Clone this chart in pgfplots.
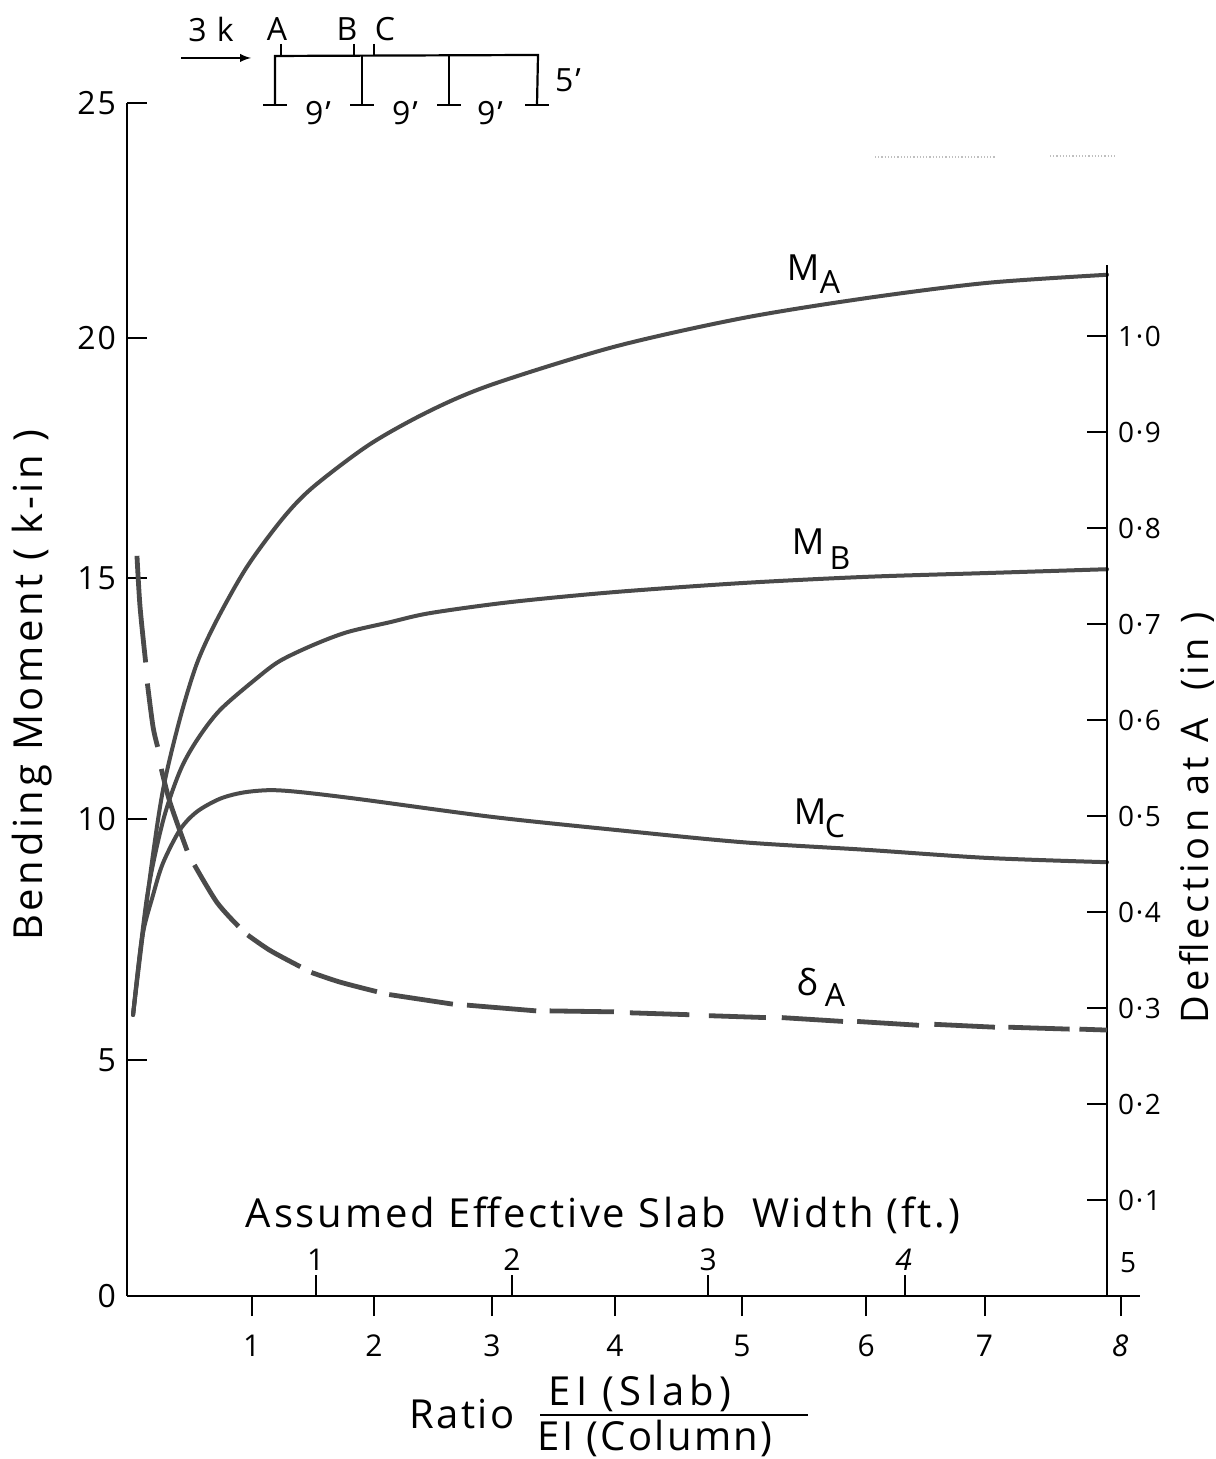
\documentclass[border=0pt]{standalone}
\usepackage{fontspec}
\usepackage{pgfplots}
\pgfplotsset{compat=1.18}
\setmainfont{Open Sans}
\newcommand{\labs}[2]{\fontsize{#2}{#2}\selectfont\addfontfeatures{LetterSpace=#1}}
\newcommand{\lab}[1]{\labs{6}{#1}}
\definecolor{curve}{HTML}{4A4A4A}
\pgfplotsset{dashseg/.style={curve, line width=2.4pt, line cap=butt, smooth, forget plot}}
\begin{document}
\begin{tikzpicture}
\path[use as bounding box] (0,0) rectangle (607.5pt,729.5pt);
% main axis: moments
\begin{axis}[
  at={(63.5pt,81.5pt)}, anchor=south west,
  scale only axis, width=506.5pt, height=596.5pt,
  xmin=-0.0204, xmax=8.249, ymin=0, ymax=25,
  axis x line=bottom, axis y line=left,
  axis line style={-, line width=1.2pt, black},
  xtick={0.998,1.996,2.959,3.963,5.0,6.013,6.98,8.094},
  xticklabels={1,2,3,4,5,6,7,\textit{8}},
  ytick={0,4.95,9.996,15.05,20.08,25},
  yticklabels={0,5,10,15,20,25},
  minor tick num=0,
  xtick style={line width=1pt, black},
  ytick style={line width=1pt, black},
  x tick label style={font=\lab{15}, yshift=-6pt},
  y tick label style={font=\lab{16}, xshift=-2pt},
  xtick align=outside, ytick align=inside,
  major tick length=10pt,
  clip=false,
]
\addplot[curve, line width=2pt, smooth, line cap=round] coordinates {
 (0.029,5.89)(0.167,8.78)(0.273,10.6)(0.412,12.1)(0.551,13.26)(0.714,14.17)(0.959,15.28)(1.253,16.3)(1.498,16.95)(1.963,17.85)(2.453,18.55)(2.959,19.1)(3.955,19.89)(5,20.49)(6.012,20.91)(7,21.23)(7.98,21.40)};
\addplot[curve, line width=2pt, smooth, line cap=round] coordinates {
 (0.029,5.89)(0.143,8.36)(0.273,9.95)(0.412,11.0)(0.551,11.65)(0.739,12.28)(1.041,12.95)(1.229,13.31)(1.498,13.64)(1.776,13.91)(2.127,14.12)(2.453,14.31)(3.106,14.54)(3.955,14.75)(5,14.94)(6.012,15.07)(7,15.15)(7.98,15.23)};
\addplot[curve, line width=2pt, smooth, line cap=round] coordinates {
 (0.029,5.89)(0.102,7.5)(0.192,8.4)(0.273,9.07)(0.412,9.77)(0.551,10.15)(0.739,10.42)(0.927,10.55)(1.147,10.60)(1.392,10.56)(1.882,10.41)(2.959,10.04)(3.955,9.77)(5,9.51)(6.012,9.35)(7,9.18)(7.98,9.09)};
\end{axis}
% right axis: deflection
\begin{axis}[
  at={(63.5pt,81.5pt)}, anchor=south west,
  scale only axis, width=490pt, height=515.5pt,
  xmin=-0.0204, xmax=7.98, ymin=0, ymax=1.074,
  axis x line=none, axis y line=right,
  axis line style={-, line width=1.2pt, black},
  ytick={0.1,0.2,0.3,0.4,0.5,0.6,0.7,0.8,0.9,1.0},
  yticklabels={0·1,0·2,0·3,0·4,0·5,0·6,0·7,0·8,0·9,1·0},
  y tick label style={font=\lab{14}, xshift=2pt},
  ytick style={line width=1pt, black},
  ytick align=inside, major tick length=10pt,
  clip=false,
]
\addplot[dashseg] coordinates {(0.061,0.771)(0.086,0.718)(0.132,0.660)};
\addplot[dashseg] coordinates {(0.146,0.638)(0.192,0.593)(0.230,0.572)};
\addplot[dashseg] coordinates {(0.260,0.549)(0.331,0.514)(0.470,0.464)};
\addplot[dashseg] coordinates {(0.530,0.449)(0.714,0.410)(0.890,0.385)};
\addplot[dashseg] coordinates {(0.965,0.376)(1.147,0.360)(1.395,0.343)};
\addplot[dashseg] coordinates {(1.485,0.337)(1.718,0.327)(2.020,0.317)};
\addplot[dashseg] coordinates {(2.120,0.314)(2.640,0.304)};
\addplot[dashseg] coordinates {(2.755,0.303)(3.320,0.297)};
\addplot[dashseg] coordinates {(3.430,0.297)(3.955,0.296)};
\addplot[dashseg] coordinates {(4.085,0.295)(4.570,0.293)};
\addplot[dashseg] coordinates {(4.730,0.292)(5.195,0.290)};
\addplot[dashseg] coordinates {(5.325,0.290)(5.825,0.286)};
\addplot[dashseg] coordinates {(5.940,0.286)(6.445,0.282)};
\addplot[dashseg] coordinates {(6.570,0.283)(7.065,0.280)};
\addplot[dashseg] coordinates {(7.175,0.280)(7.675,0.278)};
\addplot[dashseg] coordinates {(7.755,0.278)(7.98,0.277)};
\end{axis}
% slab width scale
\begin{axis}[
  at={(63.5pt,81.5pt)}, anchor=south west,
  scale only axis, width=506.5pt, height=596.5pt,
  xmin=0.038, xmax=5.2, ymin=0, ymax=1,
  axis x line=bottom, axis y line=none,
  axis line style={-, line width=1.2pt, black},
  xtick={1,2,3,4}, xticklabels={1,2,3,\textit{4}},
  xtick align=inside, major tick length=10.5pt,
  xtick style={line width=1pt, black},
  x tick label style={font=\lab{15}, yshift=27pt},
]
\addplot[draw=none, forget plot] coordinates {(1,0)(4,0)};
\end{axis}
% text and frame sketch in pixel coordinates of the reference
\begin{scope}[shift={(0,729.5pt)},x=0.5pt,y=-0.5pt]
\node[rotate=90,font=\labs{9}{20}] at (32,685) {Bending Moment ( k-in )};
\node[rotate=90,font=\labs{11}{19}] at (1197,818) {Deflection at A ~(in )};
\node[font=\lab{14}] at (1128,1263) {5};
\node[font=\labs{7}{20}] at (603,1215) {Assumed Effective Slab ~Width (ft.)};
\node[font=\lab{20}] at (462,1414) {Ratio};
\node[font=\labs{13}{20}] at (640,1393) {EI (Slab)};
\node[font=\lab{20}] at (655,1438) {EI (Column)};
\draw[line width=1pt] (540,1415) -- (808,1415);
% curve labels
\node[font=\lab{18}] at (803,268) {M};
\node[font=\lab{16}] at (830,282) {A};
\node[font=\lab{18}] at (808,542) {M};
\node[font=\lab{16}] at (840,558) {B};
\node[font=\lab{18}] at (810,812) {M};
\node[font=\lab{16}] at (835,826) {C};
\node[font=\fontsize{18}{18}\selectfont] at (807,982) {δ};
\node[font=\lab{16}] at (835,995) {A};
% frame sketch
\draw[line width=1.1pt] (275,105) -- (275,56) -- (538,55) -- (537,105);
\draw[line width=1.1pt] (362,55) -- (362,105) (449,55) -- (449,105);
\foreach \c in {275,362,449,537} \draw[line width=1.1pt] (\c-12,105) -- (\c+12,105);
\draw[line width=1pt] (281,44) -- (281,55) (354,44) -- (354,55) (374,44) -- (374,55);
\draw[line width=0.9pt, -{latex}] (181,58) -- (251,58);
\node[font=\lab{16}] at (211,30) {3 k};
\node[font=\lab{16}] at (277,29) {A};
\node[font=\lab{16}] at (347,29) {B};
\node[font=\lab{16}] at (385,29) {C};
\node[font=\lab{16}] at (318,113) {9'};
\node[font=\lab{16}] at (405,113) {9'};
\node[font=\lab{16}] at (490,113) {9'};
\node[font=\lab{16}] at (568,80) {5'};
\draw[gray!50, line width=0.6pt, densely dotted] (875,157) -- (995,157) (1050,156) -- (1115,156);
\end{scope}
\end{tikzpicture}
\end{document}
